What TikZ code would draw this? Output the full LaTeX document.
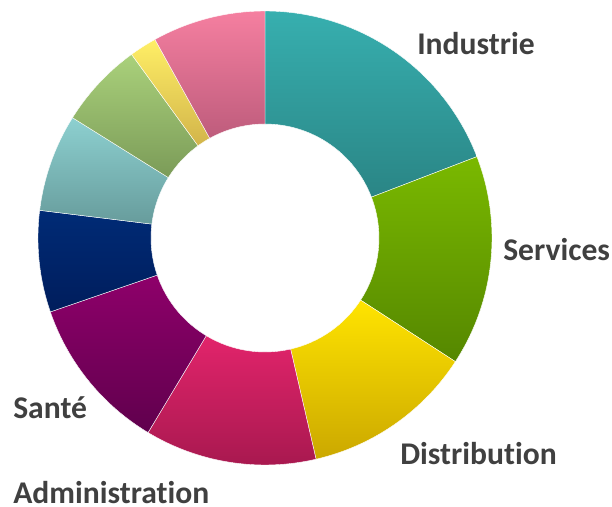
\documentclass[tikz,border=0pt]{standalone}
\usepackage{fontspec}
\setmainfont{Carlito}[Ligatures={NoCommon}]
\usepackage{xcolor}
\usepackage{tikz}

\definecolor{labelgray}{HTML}{404040}
\definecolor{indtop}{HTML}{37AFAF}
\definecolor{indbot}{HTML}{2A8585}
\definecolor{sertop}{HTML}{7AB900}
\definecolor{serbot}{HTML}{558700}
\definecolor{distop}{HTML}{FFE400}
\definecolor{disbot}{HTML}{CBA800}
\definecolor{admtop}{HTML}{E2246B}
\definecolor{admbot}{HTML}{A5184E}
\definecolor{santop}{HTML}{8E006A}
\definecolor{sanbot}{HTML}{60004D}
\definecolor{navtop}{HTML}{002B76}
\definecolor{navbot}{HTML}{001D5C}
\definecolor{lttop}{HTML}{8DD0D0}
\definecolor{ltbot}{HTML}{679C9C}
\definecolor{oltop}{HTML}{AAD17B}
\definecolor{olbot}{HTML}{7B9B58}
\definecolor{yltop}{HTML}{FFEF66}
\definecolor{ylbot}{HTML}{D2B44A}
\definecolor{pktop}{HTML}{F57FA0}
\definecolor{pkbot}{HTML}{BE5C7C}

\begin{document}
\begin{tikzpicture}[x=0.75pt,y=0.75pt,
  catname/.style={anchor=base west,inner sep=0pt,text=labelgray,font=\bfseries\fontsize{23.7}{28}\selectfont}]
			\useasboundingbox (-265,-269) rectangle (347,238);
			\foreach \a/\b/\ct/\cb in {90/21/indtop/indbot, 21/-33/sertop/serbot,
			    -33/-77/distop/disbot, -77/-121/admtop/admbot, -121/-161/santop/sanbot,
			    -161/-187/navtop/navbot, 173/148/lttop/ltbot, 148/126/oltop/olbot,
			    126/119/yltop/ylbot, 119/90/pktop/pkbot}
			  \shade[top color=\ct,bottom color=\cb,draw=white,line width=0.3pt]
			    (\a:227) arc[start angle=\a,end angle=\b,radius=227]
			    -- (\b:114) arc[start angle=\b,end angle=\a,radius=114] -- cycle;
			\node[catname] (industrie) at (152,183) {Industrie};
			\node[catname] (services) at (238,-23) {Services};
			\node[catname] (distribution) at (135,-227) {Distribution};
			\node[catname] (sante) at (-252,-181) {Santé};
			\node[catname] (administration) at (-252,-266) {Administration};
		\end{tikzpicture}
\end{document}
